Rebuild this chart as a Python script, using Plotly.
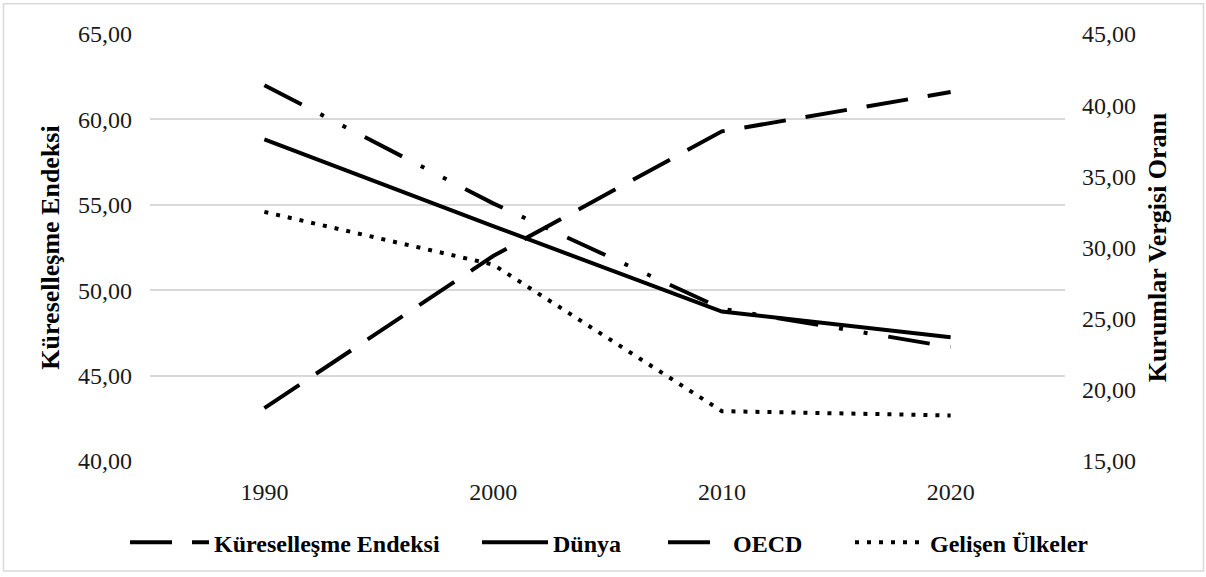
import plotly.graph_objects as go

# Yıllar (kategori ekseni)
years = ["1990", "2000", "2010", "2020"]

# Sol eksen: Küreselleşme Endeksi
kuresellesme = [43.1, 52.0, 59.3, 61.6]

# Sağ eksen: Kurumlar vergisi oranları
dunya = [37.6, 31.5, 25.5, 23.7]
oecd = [41.4, 33.1, 25.7, 23.0]
gelisen = [32.5, 28.8, 18.5, 18.2]

left_ticks = [40, 45, 50, 55, 60, 65]
right_ticks = [15, 20, 25, 30, 35, 40, 45]

FONT = "Liberation Serif, Times New Roman, serif"
TICK_FONT = dict(family=FONT, size=24, color="#1a1a1a")
TITLE_FONT = dict(family=FONT, size=26, color="black", weight="bold")
LEGEND_FONT = dict(family=FONT, size=24, color="black", weight="bold")
LINE_W = 4

W, H = 1206, 577
L, R, T, B = 150, 141, 34, 114
pw, ph = W - L - R, H - T - B


def px_x(v):
    return (v - L) / pw


def px_y(v):
    return (H - B - v) / ph


fig = go.Figure()

fig.add_trace(go.Scatter(
    x=years, y=kuresellesme, name="Küreselleşme Endeksi", mode="lines",
    line=dict(color="black", width=LINE_W, dash="42px,20px"),
    yaxis="y", legend="legend",
))
fig.add_trace(go.Scatter(
    x=years, y=dunya, name="Dünya", mode="lines",
    line=dict(color="black", width=LINE_W),
    yaxis="y2", legend="legend2",
))
fig.add_trace(go.Scatter(
    x=years, y=oecd, name="OECD", mode="lines",
    line=dict(color="black", width=LINE_W, dash="42px,21px,4px,21px,4px,21px"),
    yaxis="y2", legend="legend3",
))
fig.add_trace(go.Scatter(
    x=years, y=gelisen, name="Gelişen Ülkeler", mode="lines",
    line=dict(color="black", width=LINE_W, dash="4px,8px"),
    yaxis="y2", legend="legend4",
))


# One legend box per series, laid out along the bottom row
def legend_box(left_px, item_w):
    return dict(
        orientation="h", x=px_x(left_px), xanchor="left",
        y=px_y(545), yanchor="middle", itemwidth=item_w,
        font=LEGEND_FONT, bgcolor="rgba(0,0,0,0)", borderwidth=0,
    )


fig.update_layout(
    width=W, height=H,
    margin=dict(l=L, r=R, t=T, b=B, pad=0),
    paper_bgcolor="white", plot_bgcolor="white",
    separators=",.",
    font=dict(family=FONT, size=24, color="black"),
    showlegend=True,
    legend=legend_box(125, 79),
    legend2=legend_box(477, 66),
    legend3=legend_box(663, 60),
    legend4=legend_box(850, 70),
    xaxis=dict(
        type="category", categoryorder="array", categoryarray=years,
        range=[-0.5, 3.5], showgrid=False, showline=False, zeroline=False,
        ticks="", tickfont=TICK_FONT,
        ticklabelstandoff=14,
    ),
    yaxis=dict(
        range=[40, 65], tickvals=left_ticks, tickformat=".2f",
        showgrid=True, gridcolor="#d9d9d9", gridwidth=1.5,
        zeroline=False, showline=False, ticks="",
        tickfont=TICK_FONT,
        ticklabelstandoff=17,
        title=dict(text="Küreselleşme Endeksi", standoff=10, font=TITLE_FONT),
    ),
    yaxis2=dict(
        range=[15, 45], tickvals=right_ticks, tickformat=".2f",
        overlaying="y", side="right", showgrid=False,
        zeroline=False, showline=False, ticks="",
        tickfont=TICK_FONT,
        ticklabelstandoff=16,
        title=dict(text="Kurumlar Vergisi Oranı", standoff=12, font=TITLE_FONT),
    ),
    shapes=[dict(
        type="rect", xref="paper", yref="paper",
        x0=px_x(3.5), x1=px_x(1203.5), y0=px_y(573.5), y1=px_y(3.5),
        line=dict(color="#d9d9d9", width=1.5), fillcolor="rgba(0,0,0,0)",
        layer="below",
    )],
)

fig.write_html("out.html")
